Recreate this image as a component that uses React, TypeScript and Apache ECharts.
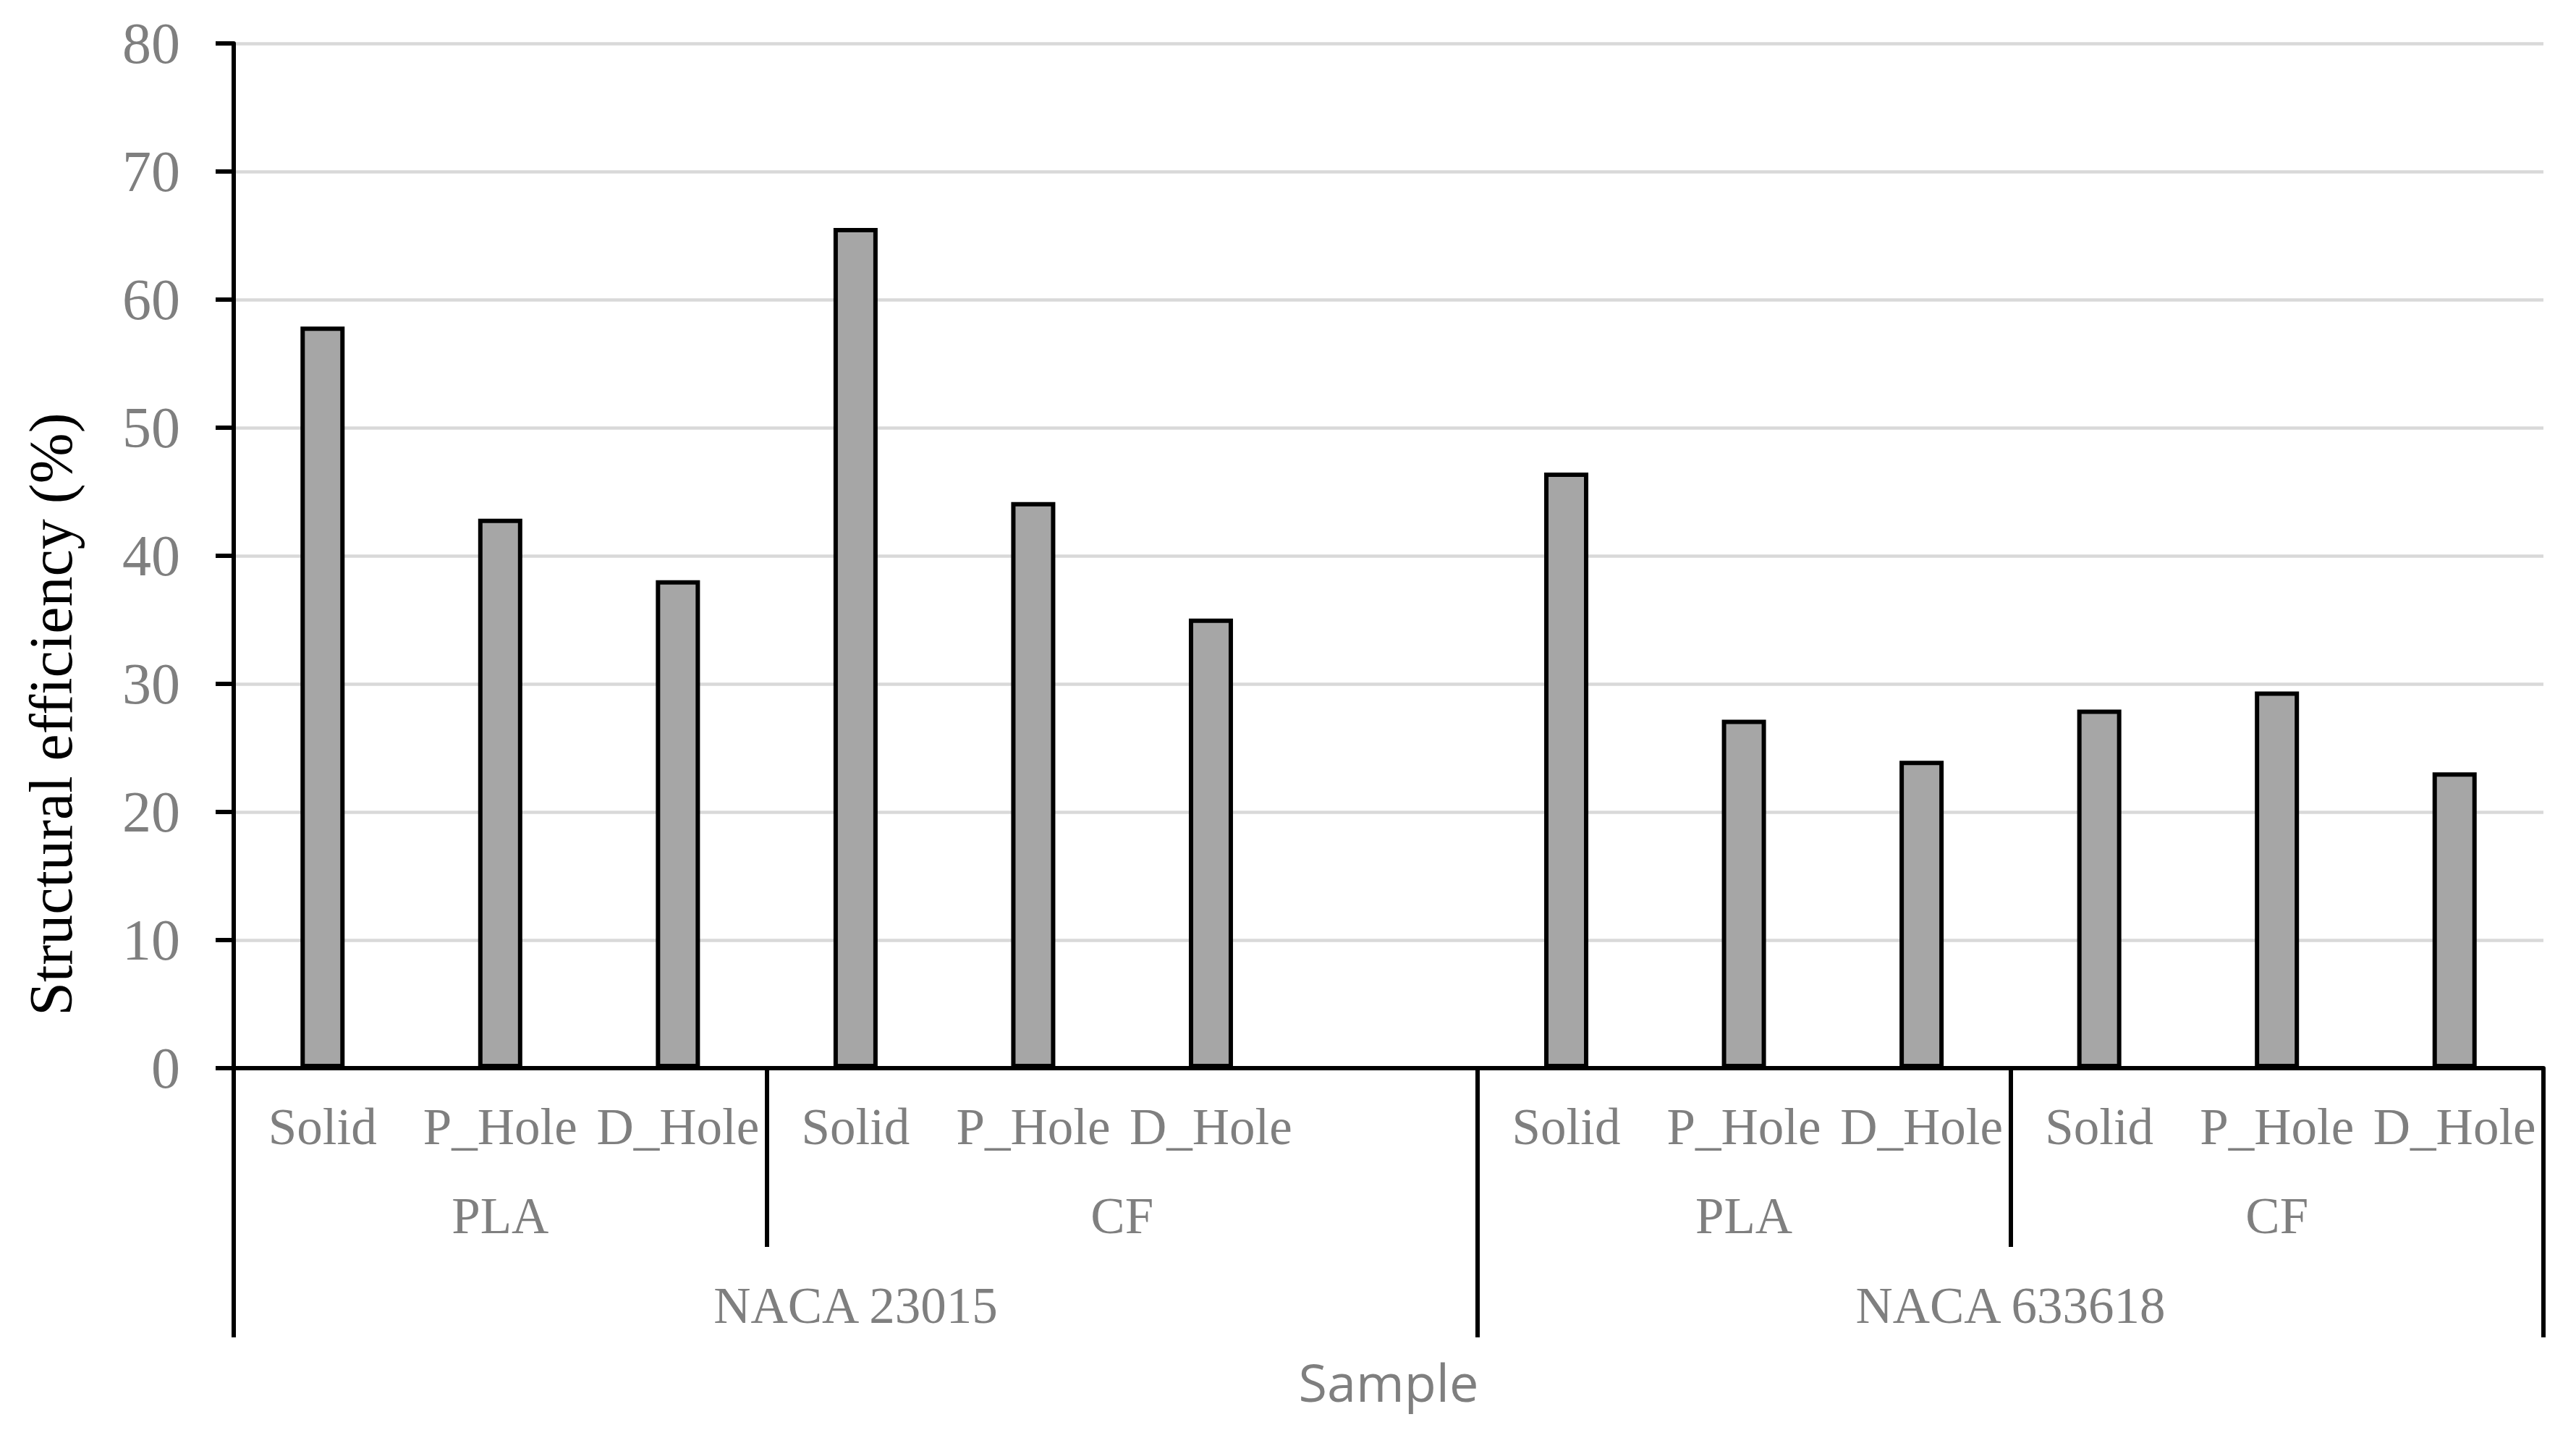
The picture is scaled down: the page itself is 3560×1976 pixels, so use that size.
import React, { useEffect, useRef } from "react";
import * as echarts from "echarts";

// ---- data ----
const categories = [
  "Solid", "P_Hole", "D_Hole",
  "Solid", "P_Hole", "D_Hole", "",
  "Solid", "P_Hole", "D_Hole",
  "Solid", "P_Hole", "D_Hole",
];
const values: (number | null)[] = [
  57.9, 42.9, 38.1,
  65.6, 44.2, 35.1, null,
  46.5, 27.2, 24.0,
  28.0, 29.4, 23.1,
];
const materialNames = ["PLA", "CF", "PLA", "CF"];
const materialSpans = [3, 4, 3, 3];
const profileNames = ["NACA 23015", "NACA 633618"];
const profileSpans = [7, 6];
const yMin = 0;
const yMax = 80;
const yStep = 10;

const GRAY = "#7f7f7f";
const SERIF = '"Liberation Serif", "Times New Roman", serif';
const SANS = '"Open Sans", "Noto Sans", sans-serif';

function spanInfo(names: string[], spans: number[]) {
  const bounds: number[] = [];
  const centers: Record<number, string> = {};
  let acc = 0;
  names.forEach((n, i) => {
    bounds.push(acc);
    centers[Math.round((acc + spans[i] / 2) * 2)] = n;
    acc += spans[i];
  });
  return { bounds, centers, total: acc };
}

const mat = spanInfo(materialNames, materialSpans);
const prof = spanInfo(profileNames, profileSpans);

export default function App() {
  const ref = useRef<HTMLDivElement>(null);
  useEffect(() => {
    if (!ref.current) return;
    const chart = echarts.init(ref.current, undefined, { renderer: "svg" });
    const labelAxisBase = {
      type: "value" as const,
      min: 0,
      max: categories.length,
      interval: 0.5,
      position: "bottom" as const,
      axisLine: { show: false },
      axisTick: { show: false },
      splitLine: { show: false },
    };
    chart.setOption({
      animation: false,
      backgroundColor: "#ffffff",
      grid: {
        left: 323,
        right: 45,
        top: 60,
        bottom: 500,
        containLabel: false,
        outerBoundsMode: "none",
      },
      xAxis: [
        {
          type: "category",
          data: categories,
          position: "bottom",
          axisLine: { show: true, lineStyle: { color: "#000", width: 6 } },
          axisTick: { show: false },
          splitLine: { show: false },
          axisLabel: {
            interval: 0,
            margin: 45,
            color: GRAY,
            fontFamily: SERIF,
            fontSize: 71,
          },
        },
        {
          type: "category",
          data: categories,
          position: "bottom",
          axisLine: { show: false },
          axisLabel: { show: false },
          splitLine: { show: false },
          axisTick: {
            show: true,
            interval: (i: number) => mat.bounds.includes(i),
            length: 247,
            lineStyle: { color: "#000", width: 6 },
          },
        },
        {
          type: "category",
          data: categories,
          position: "bottom",
          axisLine: { show: false },
          axisLabel: { show: false },
          splitLine: { show: false },
          axisTick: {
            show: true,
            interval: (i: number) => prof.bounds.includes(i),
            length: 372,
            lineStyle: { color: "#000", width: 6 },
          },
        },
        {
          ...labelAxisBase,
          axisLabel: {
            margin: 168,
            color: GRAY,
            fontFamily: SERIF,
            fontSize: 71,
            showMinLabel: true,
            showMaxLabel: true,
            formatter: (v: number) => mat.centers[Math.round(v * 2)] || "",
          },
        },
        {
          ...labelAxisBase,
          name: "Sample",
          nameLocation: "middle",
          nameGap: 397,
          nameMoveOverlap: false,
          nameTextStyle: { color: GRAY, fontFamily: SANS, fontSize: 72 },
          axisLabel: {
            margin: 292,
            color: GRAY,
            fontFamily: SERIF,
            fontSize: 71,
            showMinLabel: true,
            showMaxLabel: true,
            formatter: (v: number) => prof.centers[Math.round(v * 2)] || "",
          },
        },
      ],
      yAxis: {
        type: "value",
        min: yMin,
        max: yMax,
        interval: yStep,
        axisLine: { show: true, lineStyle: { color: "#000", width: 6 } },
        axisTick: { show: true, length: 25, lineStyle: { color: "#000", width: 6 } },
        axisLabel: { margin: 74, color: GRAY, fontFamily: SERIF, fontSize: 80 },
        splitLine: { show: true, lineStyle: { color: "#d9d9d9", width: 4.5 } },
      },
      series: [
        {
          type: "bar",
          data: values,
          xAxisIndex: 0,
          yAxisIndex: 0,
          barWidth: 61,
          itemStyle: { color: "#a6a6a6", borderColor: "#000", borderWidth: 6 },
        },
      ],
      graphic: [
        {
          type: "text",
          x: 70,
          y: 987,
          rotation: Math.PI / 2,
          style: {
            text: "Structural efficiency (%)",
            fill: "#000",
            font: `84px ${SERIF}`,
            textAlign: "center",
            textVerticalAlign: "middle",
          },
        },
      ],
    });
    return () => chart.dispose();
  }, []);
  return (
    <div
      ref={ref}
      style={{ position: "fixed", left: 0, top: 0, width: 3560, height: 1976 }}
    />
  );
}
